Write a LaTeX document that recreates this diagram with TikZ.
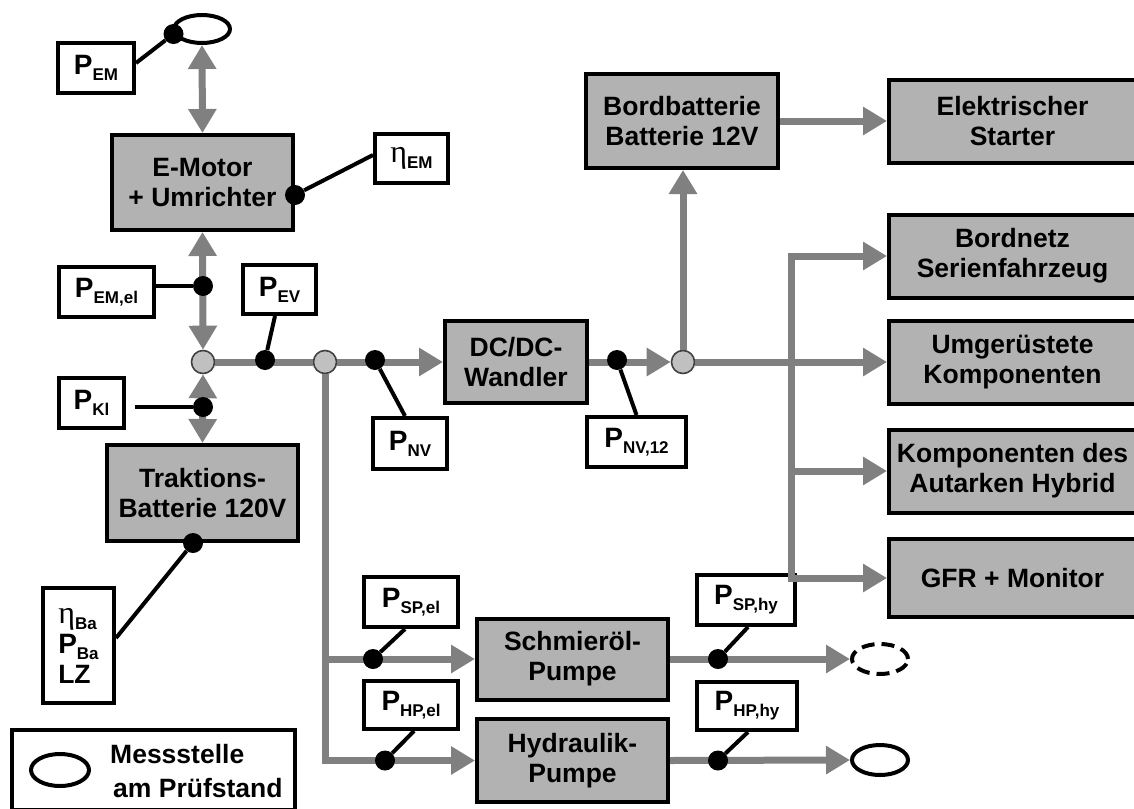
\documentclass[tikz,border=0pt]{standalone}
\usepackage{fontspec}
\setmainfont{Liberation Sans}
\newfontfamily\serifgr{Liberation Serif}
\usetikzlibrary{arrows.meta,shapes.geometric}
\definecolor{flowgray}{HTML}{808080}
\definecolor{boxgray}{HTML}{B2B2B2}
\definecolor{juncgray}{HTML}{C0C0C0}
\newcommand{\Psub}[1]{{\fontsize{28}{28}\selectfont P}\raisebox{-6pt}{\fontsize{17}{17}\selectfont #1}}
\newcommand{\Etasub}[1]{{\serifgr\mdseries\fontsize{32}{32}\selectfont η}\raisebox{-6pt}{\fontsize{17}{17}\selectfont #1}}
\tikzset{
  gbox/.style={draw, line width=4pt, fill=boxgray, align=center, inner sep=0pt, font=\bfseries\fontsize{26.5}{30}\selectfont},
  wbox/.style={draw, line width=4pt, fill=white, align=center, inner sep=0pt, font=\bfseries\fontsize{26.5}{30}\selectfont},
  mdot/.style={circle, fill=black, inner sep=0pt, minimum size=20pt},
  junc/.style={circle, draw=black!75, line width=1.6pt, fill=juncgray, inner sep=0pt, minimum size=23pt},
  flow/.style={draw=flowgray, line width=7pt},
  ftip/.tip={Triangle[length=24pt,width=27pt]},
  fa/.style={flow, -ftip},
  fda/.style={flow, ftip-ftip},
  meas/.style={draw=black, line width=4pt},
  mell/.style={ellipse, draw, line width=4pt, inner sep=0pt, minimum width=56pt, minimum height=30pt},
}
\begin{document}
\begin{tikzpicture}[x=1pt,y=-1pt,line join=miter]
\useasboundingbox (0,0) rectangle (1134,808);
\clip (0,0) rectangle (1134,808);
% gray boxes
\node[gbox, minimum width=181pt, minimum height=95pt] (emotor) at (202.5,182.5) {E-Motor\\+ Umrichter};
\node[gbox, minimum width=191pt, minimum height=96pt] (trakt) at (202.5,493) {Traktions-\\Batterie 120V};
\node[gbox, minimum width=142pt, minimum height=82pt] (dcdc) at (516,362) {DC/DC-\\Wandler};
\node[gbox, minimum width=192pt, minimum height=94pt] (bord) at (682,121) {Bordbatterie\\Batterie 12V};
\node[gbox, minimum width=247pt, minimum height=83pt] (starter) at (1012.5,121) {Elektrischer\\Starter};
\node[gbox, minimum width=247pt, minimum height=83pt] (bordnetz) at (1012.5,256) {Bordnetz\\Serienfahrzeug};
\node[gbox, minimum width=247pt, minimum height=83pt] (umger) at (1012.5,362) {Umgerüstete\\Komponenten};
\node[gbox, minimum width=247pt, minimum height=83pt] (kompon) at (1012.5,471) {Komponenten des\\Autarken Hybrid};
\node[gbox, minimum width=247pt, minimum height=78pt] (gfr) at (1012.5,578) {GFR + Monitor};
\node[gbox, minimum width=191pt, minimum height=81pt] (schm) at (572.5,659) {Schmieröl-\\Pumpe};
\node[gbox, minimum width=191pt, minimum height=83pt] (hydr) at (572.5,760.5) {Hydraulik-\\Pumpe};
% white boxes
\node[wbox, minimum width=76pt, minimum height=50pt] (pem) at (96,68) {\Psub{EM}};
\node[wbox, minimum width=73pt, minimum height=49pt] (etaem) at (411.5,158.5) {\Etasub{EM}};
\node[wbox, minimum width=95pt, minimum height=50pt] (pemel) at (106.5,292) {\Psub{EM,el}};
\node[wbox, minimum width=73pt, minimum height=49pt] (pev) at (279.5,289.5) {\Psub{EV}};
\node[wbox, minimum width=65pt, minimum height=50pt] (pkl) at (91.5,403) {\Psub{Kl}};
\node[wbox, minimum width=74pt, minimum height=51pt] (pnv) at (410,443.5) {\Psub{NV}};
\node[wbox, minimum width=99pt, minimum height=50pt] (pnv12) at (636.5,442) {\Psub{NV,12}};
\node[wbox, minimum width=71pt, minimum height=115pt, align=left, font=\bfseries\fontsize{26.5}{30}\selectfont] (etaba) at (78.5,645.5) {\Etasub{Ba}\\\Psub{Ba}\\LZ};
\node[wbox, minimum width=94pt, minimum height=50pt] (pspel) at (411,602) {\Psub{SP,el}};
\node[wbox, minimum width=94pt, minimum height=48pt] (phpel) at (411,705) {\Psub{HP,el}};
\node[wbox, minimum width=98pt, minimum height=50pt] (psphy) at (746,600) {\Psub{SP,hy}};
\node[wbox, minimum width=100pt, minimum height=48pt] (phphy) at (747,706) {\Psub{HP,hy}};
% legend
\node[wbox, minimum width=283pt, minimum height=80pt] (legend) at (153.5,770) {};
\node[mell, minimum width=58pt, minimum height=32pt] (legE) at (60,770) {};
\node[anchor=west, align=left, inner sep=0pt, font=\bfseries\fontsize{26.5}{34}\selectfont] (legT) at (110,771.5) {Messstelle\\\hspace*{3pt}am Prüfstand};
% measuring points (ellipses)
\node[mell, minimum height=28pt] (ellT) at (202,29) {};
\node[mell, dash pattern=on 13pt off 7pt] (ellD) at (880,659) {};
\node[mell] (ellS) at (880,760) {};
% junctions
\node[junc] (j1) at (203,362) {};
\node[junc] (j2) at (325,362) {};
\node[junc] (j3) at (683,362) {};
\coordinate (bt) at (791,256);
\coordinate (bb) at (791,578);
\coordinate (lm) at (325,659);
\coordinate (lb) at (325,760.5);
% flows
\draw[fda] (ellT.south) -- (emotor.north);
\draw[fda] (emotor.south) -- (j1.north);
\draw[fda] (j1.south) -- (trakt.north);
\draw[flow] (j1.east) -- (j2.west);
\draw[fa] (j2.east) -- (dcdc.west);
\draw[fa] (dcdc.east) -- (j3.west);
\draw[fa] (j3.north) -- (j3.north |- bord.south);
\draw[fa] (bord.east) -- (starter.west);
\draw[fa] (j3.east) -- (umger.west);
\draw[flow, ftip-ftip] (bordnetz.west) -- (bt) -- (bb) -- (gfr.west);
\draw[fa] (bt |- kompon.west) -- (kompon.west);
\draw[fa] (j2.south) -- (lb) -- (hydr.west);
\draw[fa] (lm) -- (schm.west);
\draw[fa] (schm.east) -- (ellD.west);
\draw[fa] (hydr.east) -- (ellS.west);
% dots
\node[mdot] (dpem) at (ellT.190) {};
\node[mdot] (detaem) at ([yshift=-12.5pt]emotor.east) {};
\node[mdot] (dpemel) at (203,286) {};
\node[mdot] (dpev) at (265,360) {};
\node[mdot] (dpkl) at (203,407) {};
\node[mdot] (dpnv) at (375,360) {};
\node[mdot] (dpnv12) at (617,360) {};
\node[mdot] (dba) at ([xshift=-9.5pt]trakt.south) {};
\node[mdot] (dspel) at (373,659) {};
\node[mdot] (dhpel) at (385,760.5) {};
\node[mdot] (dsphy) at (718,659) {};
\node[mdot] (dhphy) at (718,760.5) {};
\coordinate (pklr) at ([xshift=9pt]pkl.east);
% measuring lines
\draw[meas] ([yshift=5pt]pem.east) -- (dpem);
\draw[meas] (detaem) -- ([yshift=3.5pt]etaem.west);
\draw[meas] (pemel.east |- dpemel) -- (dpemel);
\draw[meas] ([xshift=-4.5pt]pev.south) -- (dpev);
\draw[meas] (pklr |- dpkl) -- (dpkl);
\draw[meas] (dpnv) -- ([xshift=-5pt]pnv.north);
\draw[meas] (dpnv12) -- (pnv12.north);
\draw[meas] (dba) -- ([yshift=7.5pt]etaba.east);
\draw[meas] (dspel) -- ([xshift=-6pt]pspel.south);
\draw[meas] (dhpel) -- ([xshift=3pt]phpel.south);
\draw[meas] (dsphy) -- ([xshift=2pt]psphy.south);
\draw[meas] (dhphy) -- ([xshift=1pt]phphy.south);
\end{tikzpicture}
\end{document}
